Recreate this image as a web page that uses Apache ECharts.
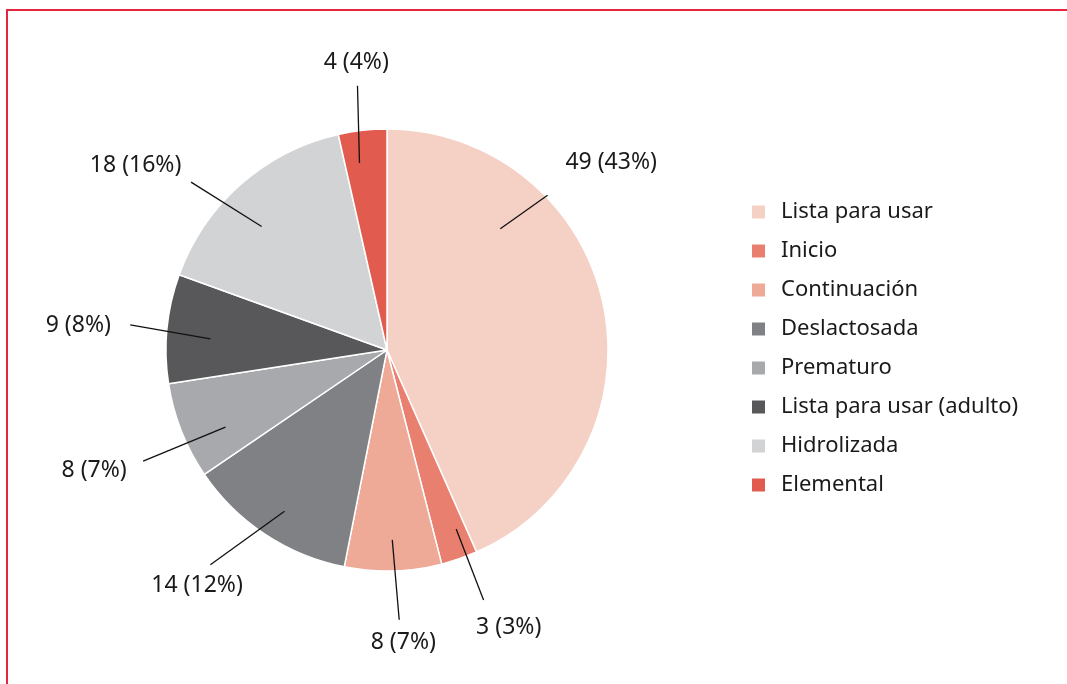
<!DOCTYPE html>
<html>
<head>
<meta charset="utf-8">
<script src="https://cdn.jsdelivr.net/npm/echarts@6/dist/echarts.min.js"></script>
<style>
  html, body { margin: 0; padding: 0; background: #fff; }
  #chart { position: absolute; left: 0; top: 0; width: 1067px; height: 684px; }
  #frame { position: absolute; left: 6px; top: 9px; width: 1100px; height: 700px;
           border-top: 2px solid #E8253F; border-left: 2px solid #E8253F; }
</style>
</head>
<body>
<div id="frame"></div>
<div id="chart"></div>
<script>
// ---- data ----
var categories = ['Lista para usar', 'Inicio', 'Continuación', 'Deslactosada',
                  'Prematuro', 'Lista para usar (adulto)', 'Hidrolizada', 'Elemental'];
var counts = [49, 3, 8, 14, 8, 9, 18, 4];
var percents = [43, 3, 7, 12, 7, 8, 16, 4];

// ---- style / layout ----
var colors = ['#F5D0C5', '#E9806F', '#EEA997', '#808184', '#A8A9AC', '#58585A', '#D2D3D5', '#E15B4E'];
var CENTER = [387, 350];
var RADIUS = 221;
var LABEL_RADIUS = 180;
// leader lines: radii and angular shifts (degrees) relative to each slice's mid angle
var lineInnerR = [166, 192, 190, 191, 179, 177, 176, 189];
var lineOuterR = [223, 268, 270, 278, 268, 258, 258, 266];
var lineInnerShift = [-35, -2, 0, -1, -4, -2, -4, -2];
var lineOuterShift = [-32, -2, -1, 6, -3, 0, -8, 0];
var labelNudge = { 0: [14, -19], 1: [8, 6], 3: [36, 7], 4: [-5, 0], 5: [-5, 4], 6: [-4, -4] };
var FONT = '"Noto Sans", "Open Sans", sans-serif';

var mainData = categories.map(function (c, i) {
  return { name: c, value: counts[i], itemStyle: { color: colors[i] } };
});
var labelData = categories.map(function (c, i) {
  return { name: c, value: counts[i] };
});

function polar(deg, r) {
  var rad = deg * Math.PI / 180;
  return [CENTER[0] + r * Math.sin(rad), CENTER[1] - r * Math.cos(rad)];
}

var chart = echarts.init(document.getElementById('chart'), null, { renderer: 'canvas' });
chart.setOption({
  animation: false,
  legend: {
    orient: 'vertical',
    left: 750,
    top: 201,
    padding: 0,
    itemWidth: 15,
    itemHeight: 15,
    itemGap: 17,
    icon: 'rect',
    data: categories,
    selectedMode: false,
    textStyle: { fontFamily: FONT, fontSize: 22, color: '#1a1a1a', lineHeight: 20, padding: [0, 0, 0, 10] }
  },
  series: [
    {
      type: 'pie',
      z: 1,
      center: CENTER,
      radius: RADIUS,
      startAngle: 90,
      clockwise: true,
      silent: true,
      label: { show: false },
      labelLine: { show: false },
      itemStyle: { borderColor: '#fff', borderWidth: 1.5 },
      data: mainData
    },
    {
      type: 'pie',
      z: 5,
      center: CENTER,
      radius: LABEL_RADIUS,
      startAngle: 90,
      clockwise: true,
      silent: true,
      avoidLabelOverlap: false,
      itemStyle: { color: 'rgba(0,0,0,0)', borderWidth: 0 },
      label: {
        show: true,
        position: 'outside',
        fontFamily: FONT,
        fontSize: 23,
        color: '#1a1a1a',
        formatter: function (p) { return counts[p.dataIndex] + ' (' + percents[p.dataIndex] + '%)'; }
      },
      labelLine: { show: true, length: 60, length2: 0, lineStyle: { color: '#111', width: 1.3 } },
      labelLayout: function (p) {
        var pts = p.labelLinePoints;
        if (!pts) return {};
        var i = p.dataIndex;
        var s = pts[0];
        var mid = Math.atan2(s[0] - CENTER[0], -(s[1] - CENTER[1])) * 180 / Math.PI;
        var a = polar(mid + lineInnerShift[i], lineInnerR[i]);
        var b = polar(mid + lineOuterShift[i], lineOuterR[i]);
        var dx = b[0] - a[0], dy = b[1] - a[1];
        var len = Math.sqrt(dx * dx + dy * dy) || 1;
        var ux = dx / len, uy = dy / len;
        var w = p.labelRect.width;
        var n = labelNudge[i] || [0, 0];
        return {
          x: b[0] + ux * (w / 2 + 15) + n[0],
          y: b[1] + uy * 23 + n[1],
          align: 'center',
          verticalAlign: 'middle',
          labelLinePoints: [a, b]
        };
      },
      data: labelData
    }
  ]
});
</script>
</body>
</html>
